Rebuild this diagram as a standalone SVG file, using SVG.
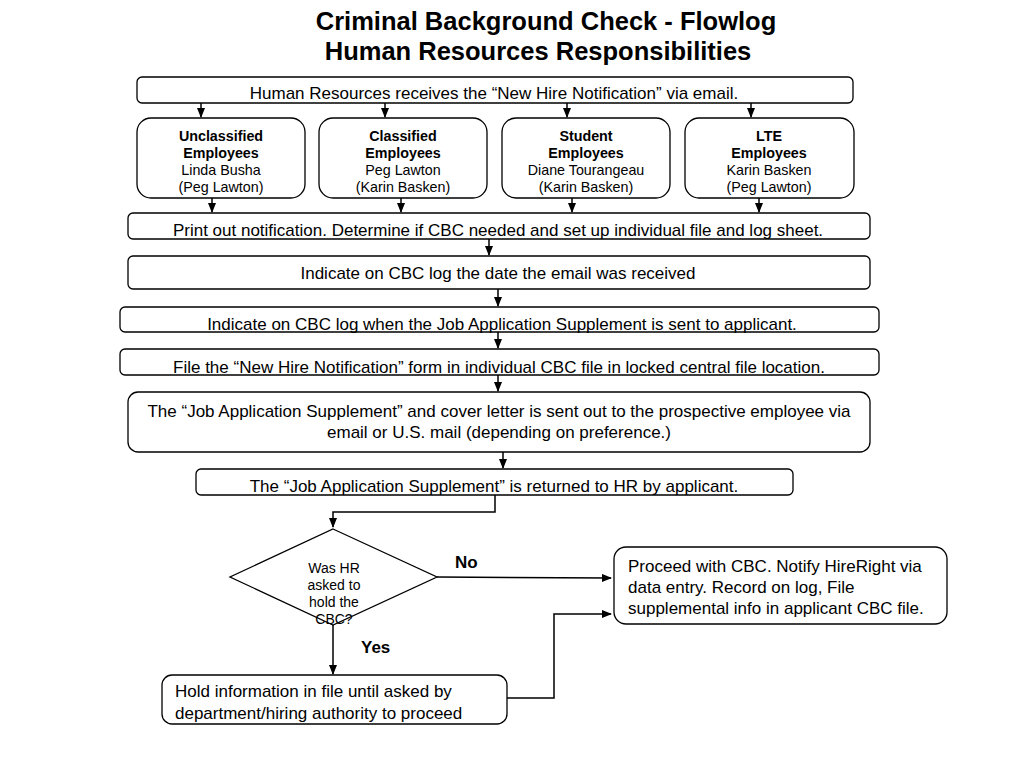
<svg xmlns="http://www.w3.org/2000/svg" width="1024" height="768" viewBox="0 0 1024 768">
<defs>
<marker id="ah" markerWidth="10" markerHeight="8" refX="9" refY="4" orient="auto" markerUnits="userSpaceOnUse">
<path d="M0,0 L10,4 L0,8 Z" fill="#000"/>
</marker>
<style>
.box{fill:#fff;stroke:#000;stroke-width:1.3}
.t{font-family:"Liberation Sans",Arial,sans-serif;font-size:17px;fill:#000}
.tc{text-anchor:middle}
.s{font-family:"Liberation Sans",Arial,sans-serif;font-size:14.3px;fill:#000;text-anchor:middle}
.d{font-family:"Liberation Sans",Arial,sans-serif;font-size:14px;fill:#000;text-anchor:middle}
.b{font-weight:bold}
.title{font-family:"Liberation Sans",Arial,sans-serif;font-size:25.5px;font-weight:bold;text-anchor:middle;fill:#000}
.c{fill:none;stroke:#000;stroke-width:1.5}
</style>
</defs>
<rect width="1024" height="768" fill="#fff"/>
<g id="title">
<text class="title" x="546" y="30">Criminal Background Check - Flowlog</text>
<text class="title" x="538" y="60">Human Resources Responsibilities</text>
</g>
<g id="connectors">
<line class="c" x1="201" y1="103" x2="201" y2="117" marker-end="url(#ah)"/>
<line class="c" x1="385" y1="103" x2="385" y2="117" marker-end="url(#ah)"/>
<line class="c" x1="567" y1="103" x2="567" y2="117" marker-end="url(#ah)"/>
<line class="c" x1="751" y1="103" x2="751" y2="117" marker-end="url(#ah)"/>
<line class="c" x1="212" y1="198" x2="212" y2="212" marker-end="url(#ah)"/>
<line class="c" x1="401" y1="198" x2="401" y2="212" marker-end="url(#ah)"/>
<line class="c" x1="572" y1="198" x2="572" y2="212" marker-end="url(#ah)"/>
<line class="c" x1="759" y1="198" x2="759" y2="212" marker-end="url(#ah)"/>
<line class="c" x1="489" y1="239" x2="489" y2="255" marker-end="url(#ah)"/>
<line class="c" x1="498" y1="289" x2="498" y2="306" marker-end="url(#ah)"/>
<line class="c" x1="498" y1="332" x2="498" y2="348" marker-end="url(#ah)"/>
<line class="c" x1="498" y1="375" x2="498" y2="391" marker-end="url(#ah)"/>
<line class="c" x1="503" y1="452" x2="503" y2="468" marker-end="url(#ah)"/>
<polyline class="c" points="495,495 495,512 333,512 333,527" marker-end="url(#ah)"/>
<line class="c" x1="437" y1="577" x2="611" y2="578" marker-end="url(#ah)"/>
<line class="c" x1="333" y1="625" x2="333" y2="674" marker-end="url(#ah)"/>
<polyline class="c" points="507,698 554,698 554,614 611,614" marker-end="url(#ah)"/>
<text class="t b" x="455" y="568">No</text>
<text class="t b" x="361" y="653">Yes</text>
</g>
<g id="n1">
<rect class="box" x="137" y="77" width="716" height="26" rx="5"/>
<text class="t tc" x="494" y="99">Human Resources receives the “New Hire Notification” via email.</text>
</g>
<g id="n2a">
<rect class="box" x="137" y="118" width="168" height="80" rx="14"/>
<text class="s b" x="221" y="141">Unclassified</text>
<text class="s b" x="221" y="158">Employees</text>
<text class="s" x="221" y="175">Linda Busha</text>
<text class="s" x="221" y="192">(Peg Lawton)</text>
</g>
<g id="n2b">
<rect class="box" x="319" y="118" width="168" height="80" rx="14"/>
<text class="s b" x="403" y="141">Classified</text>
<text class="s b" x="403" y="158">Employees</text>
<text class="s" x="403" y="175">Peg Lawton</text>
<text class="s" x="403" y="192">(Karin Basken)</text>
</g>
<g id="n2c">
<rect class="box" x="502" y="118" width="168" height="80" rx="14"/>
<text class="s b" x="586" y="141">Student</text>
<text class="s b" x="586" y="158">Employees</text>
<text class="s" x="586" y="175">Diane Tourangeau</text>
<text class="s" x="586" y="192">(Karin Basken)</text>
</g>
<g id="n2d">
<rect class="box" x="685" y="118" width="169" height="80" rx="14"/>
<text class="s b" x="769" y="141">LTE</text>
<text class="s b" x="769" y="158">Employees</text>
<text class="s" x="769" y="175">Karin Basken</text>
<text class="s" x="769" y="192">(Peg Lawton)</text>
</g>
<g id="n3">
<rect class="box" x="128" y="213" width="742" height="26" rx="5"/>
<text class="t tc" x="498" y="236">Print out notification.  Determine if CBC needed and set up individual file and log sheet.</text>
</g>
<g id="n4">
<rect class="box" x="128" y="256" width="742" height="33" rx="5"/>
<text class="t tc" x="498" y="279">Indicate on CBC log the date the email was received</text>
</g>
<g id="n5">
<rect class="box" x="120" y="307" width="759" height="25" rx="5"/>
<text class="t tc" x="502" y="330">Indicate on CBC log when the Job Application Supplement is sent to applicant.</text>
</g>
<g id="n6">
<rect class="box" x="120" y="349" width="759" height="26" rx="5"/>
<text class="t tc" x="499" y="373">File the “New Hire Notification” form in individual CBC file in locked central file location.</text>
</g>
<g id="n7">
<rect class="box" x="128" y="392" width="742" height="60" rx="10"/>
<text class="t tc" x="499" y="417">The “Job Application Supplement” and cover letter is sent out to the prospective employee via</text>
<text class="t tc" x="499" y="438">email or U.S. mail (depending on preference.)</text>
</g>
<g id="n8">
<rect class="box" x="196" y="469" width="597" height="26" rx="5"/>
<text class="t tc" x="494" y="492">The “Job Application Supplement” is returned to HR by applicant.</text>
</g>
<g id="d1">
<polygon class="box" points="333,529 437,577 333,625 230,577"/>
<text class="d" x="334" y="573">Was HR</text>
<text class="d" x="334" y="590">asked to</text>
<text class="d" x="334" y="607">hold the</text>
<text class="d" x="334" y="624">CBC?</text>
</g>
<g id="n9">
<rect class="box" x="614" y="547" width="333" height="77" rx="12"/>
<text class="t" x="628" y="572">Proceed with CBC. Notify HireRight via</text>
<text class="t" x="628" y="593">data entry. Record on log, File</text>
<text class="t" x="628" y="614">supplemental info in applicant CBC file.</text>
</g>
<g id="n10">
<rect class="box" x="162" y="675" width="345" height="49" rx="10"/>
<text class="t" x="175" y="697">Hold information in file until asked by</text>
<text class="t" x="175" y="719">department/hiring authority to proceed</text>
</g>
</svg>
